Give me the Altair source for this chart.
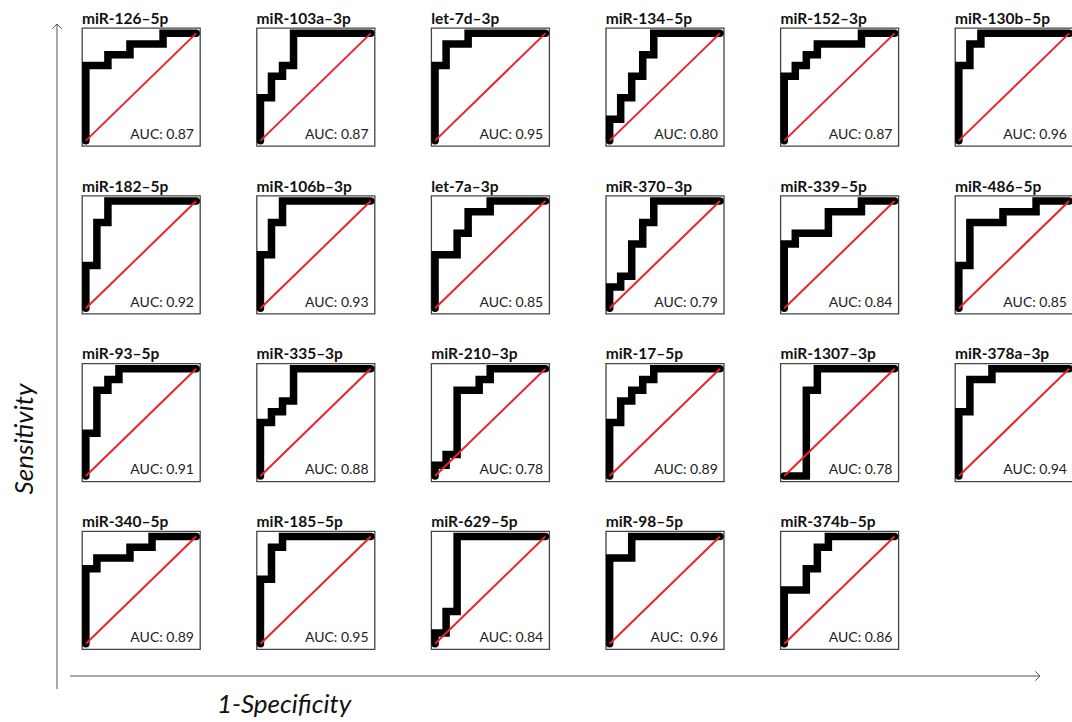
import altair as alt
import pandas as pd

mirs = ["miR-126\u20135p", "miR-103a\u20133p", "let-7d\u20133p", "miR-134\u20135p", "miR-152\u20133p", "miR-130b\u20135p",
        "miR-182\u20135p", "miR-106b\u20133p", "let-7a\u20133p", "miR-370\u20133p", "miR-339\u20135p", "miR-486\u20135p",
        "miR-93\u20135p", "miR-335\u20133p", "miR-210\u20133p", "miR-17\u20135p", "miR-1307\u20133p", "miR-378a\u20133p",
        "miR-340\u20135p", "miR-185\u20135p", "miR-629\u20135p", "miR-98\u20135p", "miR-374b\u20135p"]

auc_values = ["0.87", "0.87", "0.95", "0.80", "0.87", "0.96",
              "0.92", "0.93", "0.85", "0.79", "0.84", "0.85",
              "0.91", "0.88", "0.78", "0.89", "0.78", "0.94",
              "0.89", "0.95", "0.84", "\u00a00.96", "0.86"]

# false positive rate at which each step rises, and the sensitivity it rises to
fpr_steps = [[0, 0.2, 0.4, 0.7], [0, 0.1, 0.2, 0.3], [0, 0.1, 0.3], [0, 0.1, 0.2, 0.3, 0.4], [0, 0.1, 0.2, 0.3, 0.7], [0, 0.1, 0.2],
             [0, 0.1, 0.2], [0, 0.1, 0.2], [0, 0.2, 0.3, 0.5], [0, 0.1, 0.2, 0.3, 0.4], [0, 0.1, 0.4, 0.7], [0, 0.1, 0.4, 0.7],
             [0, 0.1, 0.2, 0.3], [0, 0.1, 0.2, 0.3], [0, 0.1, 0.2, 0.4, 0.5], [0, 0.1, 0.2, 0.3, 0.4], [0.2, 0.3], [0, 0.1, 0.3],
             [0, 0.1, 0.4, 0.6], [0, 0.1, 0.2], [0, 0.1, 0.2], [0, 0.2], [0, 0.2, 0.3, 0.4]]
tpr_steps = [[0.7, 0.8, 0.9, 1.0], [0.4, 0.6, 0.7, 1.0], [0.7, 0.9, 1.0], [0.2, 0.4, 0.6, 0.8, 1.0], [0.6, 0.7, 0.8, 0.9, 1.0], [0.7, 0.9, 1.0],
             [0.4, 0.8, 1.0], [0.5, 0.8, 1.0], [0.5, 0.7, 0.9, 1.0], [0.2, 0.3, 0.6, 0.8, 1.0], [0.6, 0.7, 0.9, 1.0], [0.4, 0.8, 0.9, 1.0],
             [0.4, 0.8, 0.9, 1.0], [0.5, 0.6, 0.7, 1.0], [0.1, 0.2, 0.8, 0.9, 1.0], [0.5, 0.7, 0.8, 0.9, 1.0], [0.8, 1.0], [0.6, 0.9, 1.0],
             [0.7, 0.8, 0.9, 1.0], [0.6, 0.9, 1.0], [0.1, 0.3, 1.0], [0.8, 1.0], [0.5, 0.7, 0.9, 1.0]]

y_title = "Sensitivity"
x_title = "1-Specificity"

rows = []
for m, fs, ts, a in zip(mirs, fpr_steps, tpr_steps, auc_values):
    pts = [(0.0, 0.0)]
    prev = 0.0
    for f, t in zip(fs, ts):
        pts.append((f, prev))
        pts.append((f, t))
        prev = t
    pts.append((1.0, 1.0))
    for i, (x, y) in enumerate(pts):
        rows.append(dict(mir=m, kind="roc", x=x, y=y, idx=i, label=""))
    rows.append(dict(mir=m, kind="diag", x=0.0, y=0.0, idx=0, label=""))
    rows.append(dict(mir=m, kind="diag", x=1.0, y=1.0, idx=1, label=""))
    rows.append(dict(mir=m, kind="auc", x=1.0, y=0.0, idx=0, label="AUC: " + a))
# one row that carries the shared outer guides (arrows and titles), drawn from the first panel
rows.append(dict(mir=mirs[0], kind="frame", x=0.0, y=0.0, idx=0, label=""))
df = pd.DataFrame(rows)

xs = alt.Scale(domain=[-0.035, 1.035], nice=False, zero=False)
ys = alt.Scale(domain=[-0.05, 1.05], nice=False, zero=False)

roc = alt.Chart().transform_filter(alt.datum.kind == "roc").mark_line(
    color="black", strokeWidth=7.5, strokeJoin="miter", strokeCap="round"
).encode(x=alt.X("x:Q", scale=xs, axis=None), y=alt.Y("y:Q", scale=ys, axis=None), order="idx:Q")

diag = alt.Chart().transform_filter(alt.datum.kind == "diag").mark_line(
    color="#e8232b", strokeWidth=2
).encode(x=alt.X("x:Q", scale=xs, axis=None), y=alt.Y("y:Q", scale=ys, axis=None), order="idx:Q")

auc = alt.Chart().transform_filter(alt.datum.kind == "auc").mark_text(
    align="right", baseline="alphabetic", font="Lato", fontSize=14, color="#222"
).encode(x=alt.value(112), y=alt.value(111), text="label:N")

arrow_col = "#555"
frame = alt.Chart().transform_filter(alt.datum.kind == "frame")

y_rule = frame.mark_rule(color=arrow_col, strokeWidth=1).encode(
    x=alt.value(-25), y=alt.value(-4), y2=alt.value(661))
y_head = frame.mark_point(shape="M-1,1L0,0L1,1", filled=False, size=90, color=arrow_col,
                          strokeWidth=1, opacity=1).encode(x=alt.value(-25), y=alt.value(-4))
y_text = frame.mark_text(text=y_title, angle=270, font="Lato", fontSize=26, fontStyle="italic",
                         color="#111").encode(x=alt.value(-57), y=alt.value(411))
x_rule = frame.mark_rule(color=arrow_col, strokeWidth=1).encode(
    x=alt.value(-12), x2=alt.value(958), y=alt.value(648))
x_head = frame.mark_point(shape="M-1,-1L0,0L-1,1", filled=False, size=90, color=arrow_col,
                          strokeWidth=1, opacity=1).encode(x=alt.value(958), y=alt.value(648))
x_text = frame.mark_text(text=x_title, font="Lato", fontSize=26, fontStyle="italic",
                         color="#111").encode(x=alt.value(202), y=alt.value(677))

chart = alt.layer(roc, diag, auc, y_rule, y_head, y_text, x_rule, x_head, x_text, data=df).properties(
    width=118, height=118, view=alt.ViewBackground(stroke="#444", strokeWidth=1.3)
).facet(
    facet=alt.Facet("mir:N", sort=mirs, title=None,
                    header=alt.Header(labelFont="Lato", labelFontSize=15.5, labelFontWeight="bold",
                                      labelColor="#111", labelAnchor="start", labelAlign="left",
                                      labelPadding=-9)),
    columns=6, spacing={"row": 49.7, "column": 56.6}, bounds="flush"
).properties(
    autosize=alt.AutoSizeParams(type="none"),
    padding={"left": 82, "top": 28, "right": 990, "bottom": 694},
    background="white"
)

chart.save("out.html", embed_options={"renderer": "svg", "actions": False})
